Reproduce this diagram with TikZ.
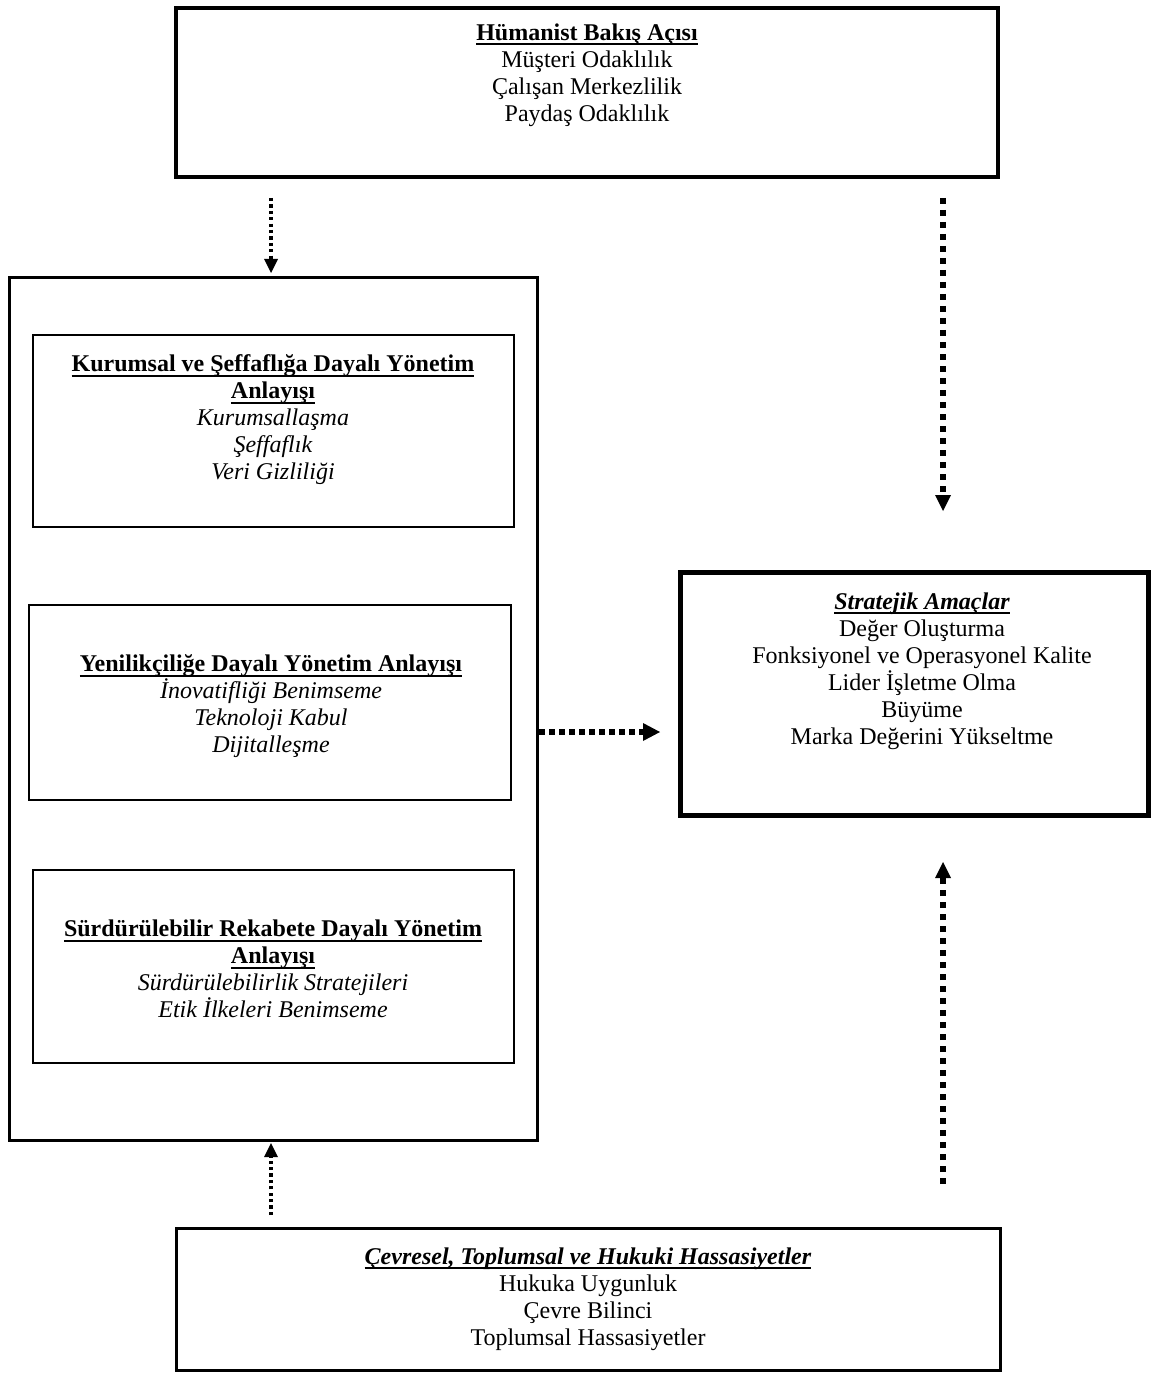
\documentclass[tikz,border=0pt]{standalone}
\usepackage{fontspec}
\setmainfont{Liberation Serif}
\newcommand\myul[1]{\setbox0\hbox{#1}\rlap{\rule[-2.6pt]{\wd0}{1pt}}\box0}
\usetikzlibrary{arrows.meta}
\tikzset{
  box/.style={draw, rectangle, inner sep=0pt},
  txt/.style={align=center, inner sep=0pt, font=\fontsize{12}{13.5}\selectfont},
  thinarr/.style={line width=2pt, dash pattern=on 1.6pt off 1.6pt, -{Triangle[width=7pt,length=7pt,line width=0pt]}},
  thickarr/.style={line width=3pt, dash pattern=on 3pt off 3pt, -{Triangle[width=8pt,length=8pt,line width=0pt]}},
  horarr/.style={line width=2.6pt, dash pattern=on 3pt off 2pt, -{Triangle[width=9pt,length=8.5pt,line width=0pt]}},
}
\begin{document}
\begin{tikzpicture}[x=0.5pt,y=-0.5pt]
\useasboundingbox (0,0) rectangle (1152,1374);
% boxes
\node[box, line width=2pt, minimum width=411pt, minimum height=84.5pt] (top) at (587,92.5) {};
\node[box, line width=1.5pt, minimum width=264pt, minimum height=431pt] (left) at (273,709) {};
\node[box, line width=1pt, minimum width=240.5pt, minimum height=96pt] (b1) at (273.5,431) {};
\node[box, line width=1pt, minimum width=241pt, minimum height=97.5pt] (b2) at (270,702.5) {};
\node[box, line width=1pt, minimum width=240.5pt, minimum height=96.5pt] (b3) at (273.5,966.5) {};
\node[box, line width=2.5pt, minimum width=234pt, minimum height=121.5pt] (right) at (914,693.5) {};
\node[box, line width=1.5pt, minimum width=412pt, minimum height=71pt] (bot) at (588,1299) {};
% texts
\node[txt] (ttop) at (587,75) {\myul{\textbf{Hümanist Bakış Açısı}}\\Müşteri Odaklılık\\Çalışan Merkezlilik\\Paydaş Odaklılık};
\node[txt] (t1) at (273,420) {\myul{\textbf{Kurumsal ve Şeffaflığa Dayalı Yönetim}}\\\myul{\textbf{Anlayışı}}\\\textit{Kurumsallaşma}\\\textit{Şeffaflık}\\\textit{Veri Gizliliği}};
\node[txt] (t2) at (271,706) {\myul{\textbf{Yenilikçiliğe Dayalı Yönetim Anlayışı}}\\\textit{İnovatifliği Benimseme}\\\textit{Teknoloji Kabul}\\\textit{Dijitalleşme}};
\node[txt] (t3) at (273,969) {\myul{\textbf{Sürdürülebilir Rekabete Dayalı Yönetim}}\\\myul{\textbf{Anlayışı}}\\\textit{Sürdürülebilirlik Stratejileri}\\\textit{Etik İlkeleri Benimseme}};
\node[txt] (tr) at (922,671) {\myul{\textbf{\textit{Stratejik Amaçlar}}}\\Değer Oluşturma\\Fonksiyonel ve Operasyonel Kalite\\Lider İşletme Olma\\Büyüme\\Marka Değerini Yükseltme};
\node[txt] (tbot) at (588,1299) {\myul{\textbf{\textit{Çevresel, Toplumsal ve Hukuki Hassasiyetler}}}\\Hukuka Uygunluk\\Çevre Bilinci\\Toplumsal Hassasiyetler};
% arrow endpoints
\coordinate (a1s) at (271,198);
\coordinate (a1e) at (271,273);
\coordinate (a2s) at (943,198);
\coordinate (a2e) at (943,511);
\coordinate (a3s) at (539,732);
\coordinate (a3e) at (660,732);
\coordinate (a4s) at (943,1184);
\coordinate (a4e) at (943,862);
\coordinate (a5s) at (271,1215);
\coordinate (a5e) at (271,1143);
\draw[thinarr] (a1s) -- (a1e);
\draw[thickarr] (a2s) -- (a2e);
\draw[horarr] (a3s) -- (a3e);
\draw[thickarr] (a4s) -- (a4e);
\draw[thinarr] (a5s) -- (a5e);
\end{tikzpicture}
\end{document}
